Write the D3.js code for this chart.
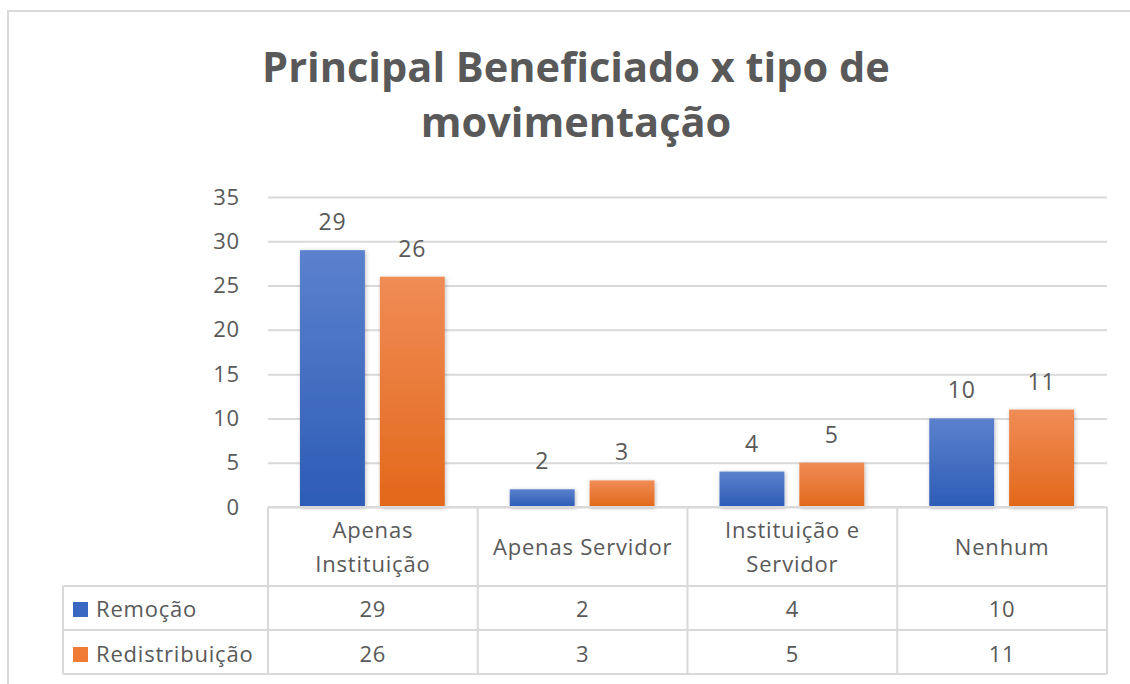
<!DOCTYPE html>
<html>
<head>
<meta charset="utf-8">
<script src="https://cdn.jsdelivr.net/npm/d3@7"></script>
<style>
	body { margin: 0; background: #fff; }
	svg { display: block; font-family: "Open Sans", sans-serif; }
</style>
</head>
<body>
<svg id="chart"></svg>
<script>
// chart data
var titleLines = ["Principal Beneficiado x tipo de", "movimentação"];
var categories = ["Apenas Instituição", "Apenas Servidor", "Instituição e Servidor", "Nenhum"];
var headerLines = [["Apenas", "Instituição"], ["Apenas Servidor"], ["Instituição e", "Servidor"], ["Nenhum"]];
var seriesNames = ["Remoção", "Redistribuição"];
var remocao = [29, 2, 4, 10];
var redistribuicao = [26, 3, 5, 11];
var yTicks = [0, 5, 10, 15, 20, 25, 30, 35];

var seriesValues = [remocao, redistribuicao];
var seriesColors = [
	{ top: "#5b81cd", bottom: "#2d5cb6", key: "#3a67c0" },
	{ top: "#f08c56", bottom: "#e2681a", key: "#ef7b35" }
];

var width = 1130, height = 684;
var margin = { left: 268, right: 23, top: 197, bottom: 177 };
var textColor = "#595959", lineColor = "#d9d9d9";
var labelSize = 22, tableSize = 22, spacing = 0.8;

var svg = d3.select("#chart").attr("width", width).attr("height", height);
var defs = svg.append("defs");

seriesColors.forEach(function(c, i) {
	var g = defs.append("linearGradient").attr("id", "grad" + i)
		.attr("x1", 0).attr("y1", 0).attr("x2", 0).attr("y2", 1);
	g.append("stop").attr("offset", "0%").attr("stop-color", c.top);
	g.append("stop").attr("offset", "100%").attr("stop-color", c.bottom);
});
defs.append("filter").attr("id", "shadow")
	.attr("x", "-20%").attr("y", "-20%").attr("width", "140%").attr("height", "140%")
	.append("feDropShadow").attr("dx", 1).attr("dy", 1).attr("stdDeviation", 2)
	.attr("flood-color", "#000").attr("flood-opacity", 0.25);

// outer frame
svg.append("rect")
	.attr("x", 8).attr("y", 11).attr("width", 1140).attr("height", 700)
	.attr("fill", "none").attr("stroke", lineColor).attr("stroke-width", 2);

// title, sized to the width in the picture
var title = svg.append("g").attr("class", "title");
var titleSize = 44;
title.selectAll("text")
	.data(titleLines)
	.enter().append("text")
	.attr("x", 576)
	.attr("y", function(d, i) { return 82 + i * 55; })
	.attr("text-anchor", "middle")
	.attr("font-weight", "bold")
	.attr("font-size", titleSize)
	.attr("fill", textColor)
	.text(function(d) { return d; });
var w0 = title.select("text").node().getComputedTextLength();
title.selectAll("text").attr("font-size", titleSize * 628 / w0);

var plotW = width - margin.left - margin.right;
var plotBottom = height - margin.bottom;

var xScale = d3.scaleBand().domain(categories).range([margin.left, margin.left + plotW]);
var x1 = d3.scaleBand().domain(seriesNames).range([32, xScale.bandwidth() - 33]).paddingInner(0.1875);
var yScale = d3.scaleLinear().domain([0, 35]).range([plotBottom, margin.top]);

// gridlines + tick labels
var yAxis = svg.append("g").attr("class", "yAxis")
	.attr("transform", "translate(" + margin.left + ",0)")
	.call(d3.axisLeft(yScale).tickValues(yTicks).tickSize(-plotW).tickPadding(28));
yAxis.select(".domain").remove();
yAxis.selectAll(".tick line").attr("stroke", lineColor).attr("stroke-width", 2);
yAxis.selectAll(".tick text")
	.attr("fill", textColor).attr("font-size", labelSize)
	.attr("letter-spacing", spacing)
	.attr("font-family", "Open Sans, sans-serif");

// bars
var groups = svg.selectAll(".catGroup")
	.data(categories)
	.enter().append("g")
	.attr("class", "catGroup")
	.attr("transform", function(d) { return "translate(" + xScale(d) + ",0)"; });

groups.selectAll("rect")
	.data(function(d, i) { return seriesNames.map(function(s, j) { return { s: s, j: j, v: seriesValues[j][i] }; }); })
	.enter().append("rect")
	.attr("x", function(d) { return x1(d.s); })
	.attr("y", function(d) { return yScale(d.v); })
	.attr("width", x1.bandwidth())
	.attr("height", function(d) { return plotBottom - yScale(d.v); })
	.attr("fill", function(d) { return "url(#grad" + d.j + ")"; })
	.attr("filter", "url(#shadow)");

groups.selectAll(".barLabel")
	.data(function(d, i) { return seriesNames.map(function(s, j) { return { s: s, j: j, v: seriesValues[j][i] }; }); })
	.enter().append("text")
	.attr("class", "barLabel")
	.attr("x", function(d) { return x1(d.s) + x1.bandwidth() / 2; })
	.attr("y", function(d) { return yScale(d.v) - 20; })
	.attr("text-anchor", "middle")
	.attr("font-size", labelSize + 1)
	.attr("letter-spacing", spacing)
	.attr("fill", textColor)
	.text(function(d) { return d.v; });

// data table
var rowY = [plotBottom, 586, 630, 674];
var tableLeft = 63, tableRight = margin.left + plotW;
var table = svg.append("g").attr("class", "dataTable")
	.attr("stroke", lineColor).attr("stroke-width", 2).attr("fill", "none");

table.selectAll(".hline")
	.data(rowY)
	.enter().append("line")
	.attr("x1", function(d, i) { return i < 1 ? margin.left : tableLeft; })
	.attr("x2", tableRight)
	.attr("y1", function(d) { return d; })
	.attr("y2", function(d) { return d; });

var colX = categories.map(function(c) { return xScale(c); }).concat([tableRight]);
table.selectAll(".vline")
	.data(colX)
	.enter().append("line")
	.attr("x1", function(d) { return d; })
	.attr("x2", function(d) { return d; })
	.attr("y1", rowY[0])
	.attr("y2", rowY[3]);
table.append("line")
	.attr("x1", tableLeft).attr("x2", tableLeft)
	.attr("y1", rowY[1]).attr("y2", rowY[3]);

// header cells
svg.selectAll(".headerText")
	.data(categories)
	.enter().append("text")
	.attr("class", "headerText")
	.attr("x", function(d) { return xScale(d) + xScale.bandwidth() / 2; })
	.attr("y", function(d, i) { return headerLines[i].length > 1 ? 538 : 555; })
	.attr("text-anchor", "middle")
	.attr("font-size", tableSize)
	.attr("letter-spacing", spacing)
	.attr("fill", textColor)
	.selectAll("tspan")
	.data(function(d, i) { return headerLines[i]; })
	.enter().append("tspan")
	.attr("x", function() { var p = this.parentNode; return p.getAttribute("x"); })
	.attr("dy", function(d, i) { return i === 0 ? 0 : 34; })
	.text(function(d) { return d; });

// series rows
var rowTextY = [617, 662];
seriesNames.forEach(function(s, j) {
	svg.append("rect")
		.attr("x", 73).attr("y", rowTextY[j] - 15)
		.attr("width", 15).attr("height", 15)
		.attr("fill", seriesColors[j].key);
	svg.append("text")
		.attr("x", 96).attr("y", rowTextY[j])
		.attr("font-size", tableSize)
		.attr("letter-spacing", spacing)
		.attr("fill", textColor)
		.text(s);
	svg.selectAll(".cell" + j)
		.data(categories)
		.enter().append("text")
		.attr("class", "cell" + j)
		.attr("x", function(d) { return xScale(d) + xScale.bandwidth() / 2; })
		.attr("y", rowTextY[j])
		.attr("text-anchor", "middle")
		.attr("font-size", tableSize)
		.attr("letter-spacing", spacing)
		.attr("fill", textColor)
		.text(function(d, i) { return seriesValues[j][i]; });
});
</script>
</body>
</html>
